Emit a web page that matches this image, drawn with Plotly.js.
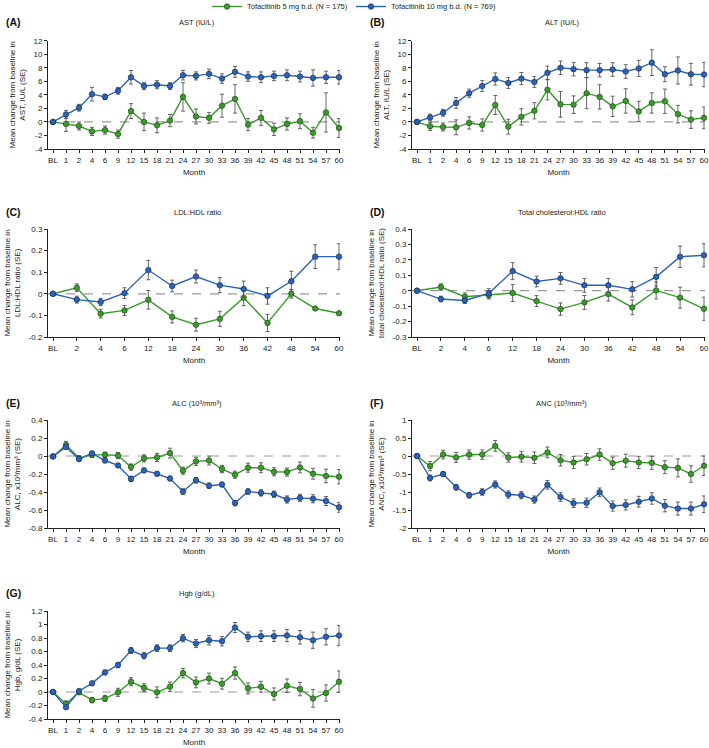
<!DOCTYPE html>
<html><head><meta charset="utf-8">
<script src="https://cdn.plot.ly/plotly-3.0.1.min.js"></script>
<style>html,body{margin:0;padding:0;background:#fff}#chart{width:709px;height:748px}</style>
</head><body><div id="chart"></div>
<script>
// ---------- categories ----------
const monthsLong = ['BL','1','2','4','6','9','12','15','18','21','24','27','30','33','36','39','42','45','48','51','54','57','60'];
const monthsShort = ['BL','2','4','6','12','18','24','30','36','42','48','54','60'];

// ---------- series names ----------
const nameLow = 'Tofacitinib 5 mg b.d. (N = 175)';
const nameHigh = 'Tofacitinib 10 mg b.d. (N = 769)';

// ---------- (A) AST ----------
const astHigh   = [0,1.1,2.1,4.1,3.7,4.6,6.6,5.3,5.5,5.3,6.9,6.8,7.1,6.4,7.4,6.7,6.6,6.8,6.9,6.7,6.5,6.6,6.6];
const astHighSE = [0.3,0.6,0.5,1.0,0.4,0.5,1.0,0.5,0.6,0.5,0.7,0.6,0.7,0.7,0.8,0.7,0.8,0.7,0.8,0.8,1.2,0.9,1.0];
const astLow    = [0,-0.3,-0.6,-1.4,-1.2,-1.8,1.6,0.0,-0.5,0.2,3.7,0.8,0.6,2.4,3.4,-0.4,0.6,-1.1,-0.3,0.1,-1.6,1.4,-0.9];
const astLowSE  = [0.3,1.1,0.6,0.6,0.6,0.6,1.1,1.3,1.1,0.9,2.1,1.1,0.8,1.7,2.1,0.9,1.1,0.9,0.9,1.1,0.8,2.9,1.4];

// ---------- (B) ALT ----------
const altHigh   = [0,0.65,1.35,2.8,4.25,5.3,6.35,5.75,6.4,5.9,7.25,8.0,7.8,7.65,7.65,7.75,7.45,7.9,8.75,7.05,7.6,7.05,7.0];
const altHighSE = [0.3,0.5,0.5,0.8,0.6,0.8,0.9,0.8,0.9,0.8,1.0,1.0,1.0,1.1,1.0,1.0,1.0,1.2,1.9,1.1,2.0,1.6,1.8];
const altLow    = [0,-0.65,-0.75,-0.8,-0.15,-0.45,2.5,-0.7,0.75,1.65,4.75,2.6,2.55,4.25,3.7,2.3,3.1,1.55,2.8,3.05,1.15,0.35,0.6];
const altLowSE  = [0.3,0.6,0.6,1.1,0.9,0.9,1.4,1.1,1.2,1.2,1.5,1.9,1.3,2.3,1.8,1.5,1.8,1.5,1.5,1.8,1.3,1.3,1.6];

// ---------- (C) LDL:HDL ----------
const ldlHigh   = [0,-0.027,-0.038,0.003,0.11,0.036,0.08,0.04,0.022,-0.01,0.058,0.172,0.172];
const ldlHighSE = [0.005,0.016,0.017,0.025,0.045,0.027,0.03,0.035,0.037,0.038,0.046,0.055,0.06];
const ldlLow    = [0,0.028,-0.092,-0.077,-0.028,-0.107,-0.143,-0.116,-0.018,-0.135,0.0,-0.068,-0.09];
const ldlLowSE  = [0.005,0.018,0.02,0.023,0.043,0.028,0.03,0.035,0.037,0.04,0.02,0.006,0.006];

// ---------- (D) Total cholesterol:HDL ----------
const tcHigh   = [0,-0.054,-0.063,-0.017,0.127,0.06,0.08,0.035,0.035,0.009,0.09,0.22,0.23];
const tcHighSE = [0.005,0.018,0.02,0.03,0.055,0.035,0.038,0.045,0.045,0.05,0.06,0.07,0.075];
const tcLow    = [0,0.024,-0.039,-0.028,-0.015,-0.067,-0.119,-0.076,-0.022,-0.108,0.002,-0.045,-0.117];
const tcLowSE  = [0.005,0.02,0.025,0.025,0.055,0.035,0.04,0.045,0.045,0.048,0.055,0.068,0.075];

// ---------- (E) ALC ----------
const alcHigh   = [-0.005,0.1,-0.035,0.03,-0.05,-0.105,-0.255,-0.16,-0.197,-0.25,-0.395,-0.27,-0.33,-0.317,-0.523,-0.395,-0.41,-0.425,-0.483,-0.465,-0.475,-0.5,-0.57];
const alcHighSE = [0.01,0.02,0.02,0.02,0.025,0.02,0.03,0.025,0.025,0.025,0.03,0.03,0.03,0.025,0.03,0.03,0.035,0.035,0.04,0.04,0.045,0.05,0.055];
const alcLow    = [-0.005,0.123,-0.023,0.013,0.013,0.005,-0.123,-0.027,-0.016,0.032,-0.163,-0.06,-0.05,-0.145,-0.208,-0.13,-0.13,-0.175,-0.178,-0.127,-0.197,-0.222,-0.23];
const alcLowSE  = [0.01,0.04,0.025,0.03,0.03,0.035,0.035,0.04,0.045,0.055,0.04,0.045,0.05,0.04,0.04,0.05,0.055,0.045,0.045,0.06,0.06,0.075,0.08];

// ---------- (F) ANC ----------
const ancHigh   = [0,-0.61,-0.5,-0.87,-1.09,-1.0,-0.79,-1.07,-1.09,-1.21,-0.8,-1.14,-1.31,-1.3,-1.01,-1.39,-1.36,-1.27,-1.18,-1.38,-1.46,-1.46,-1.34];
const ancHighSE = [0.03,0.08,0.07,0.08,0.08,0.09,0.1,0.1,0.1,0.1,0.12,0.12,0.12,0.13,0.12,0.14,0.14,0.15,0.16,0.17,0.18,0.18,0.23];
const ancLow    = [0,-0.28,0.04,-0.04,0.04,0.04,0.28,-0.04,-0.02,-0.05,0.1,-0.12,-0.18,-0.09,0.04,-0.2,-0.13,-0.18,-0.19,-0.31,-0.33,-0.5,-0.27];
const ancLowSE  = [0.03,0.13,0.12,0.14,0.13,0.13,0.15,0.13,0.15,0.16,0.15,0.16,0.17,0.16,0.16,0.17,0.18,0.17,0.18,0.18,0.25,0.23,0.27];

// ---------- (G) Hgb ----------
const hgbHigh   = [0,-0.225,0.015,0.128,0.29,0.4,0.615,0.537,0.65,0.65,0.797,0.718,0.767,0.753,0.955,0.817,0.827,0.827,0.837,0.81,0.767,0.817,0.837];
const hgbHighSE = [0.01,0.02,0.025,0.03,0.035,0.04,0.045,0.045,0.05,0.05,0.055,0.06,0.07,0.07,0.075,0.07,0.08,0.08,0.09,0.1,0.12,0.12,0.15];
const hgbLow    = [0,-0.173,-0.005,-0.12,-0.095,-0.005,0.152,0.063,-0.005,0.078,0.28,0.142,0.2,0.123,0.28,0.054,0.078,-0.03,0.093,0.044,-0.095,-0.015,0.152];
const hgbLowSE  = [0.01,0.04,0.03,0.04,0.045,0.06,0.06,0.06,0.08,0.07,0.07,0.08,0.08,0.08,0.09,0.08,0.08,0.09,0.1,0.1,0.13,0.12,0.16];

// ---------- y tick values / labels ----------
const astTickVals = [-4,-2,0,2,4,6,8,10,12];
const astTickText = ['-4','-2','0','2','4','6','8','10','12'];
const ldlTickVals = [-0.2,-0.1,0,0.1,0.2,0.3];
const ldlTickText = ['-0.2','-0.1','0','0.1','0.2','0.3'];
const tcTickVals  = [-0.3,-0.2,-0.1,0,0.1,0.2,0.3,0.4];
const tcTickText  = ['-0.3','-0.2','-0.1','0','0.1','0.2','0.3','0.4'];
const alcTickVals = [-0.8,-0.6,-0.4,-0.2,0,0.2,0.4];
const alcTickText = ['-0.8','-0.6','-0.4','-0.2','0','0.2','0.4'];
const ancTickVals = [-2,-1.5,-1,-0.5,0,0.5,1];
const ancTickText = ['-2','-1.5','-1','-0.5','0','0.5','1'];
const hgbTickVals = [-0.4,-0.2,0,0.2,0.4,0.6,0.8,1,1.2];
const hgbTickText = ['-0.4','-0.2','0','0.2','0.4','0.6','0.8','1','1.2'];

// ---------- panel text ----------
const panelLabels = ['(A)','(B)','(C)','(D)','(E)','(F)','(G)'];
const panelTitles = ['AST (IU/L)','ALT (IU/L)','LDL:HDL ratio','Total cholesterol:HDL ratio',
  'ALC (10³/mm³)','ANC (10³/mm³)','Hgb (g/dL)'];
const yTitles = ['Mean change from baseline in<br>AST, IU/L (SE)',
  'Mean change from baseline in<br>ALT, IU/L (SE)',
  'Mean change from baseline in<br>LDL:HDL ratio (SE)',
  'Mean change from baseline in<br>total cholesterol:HDL ratio (SE)',
  'Mean change from baseline in<br>ALC, x10³/mm³ (SE)',
  'Mean change from baseline in<br>ANC, x10³/mm³ (SE)',
  'Mean change from baseline in<br>Hgb, g/dL (SE)'];
const xTitle = 'Month';

// ---------- styling / geometry ----------
const W = 709, H = 748;
const FONT = 'Liberation Sans, Arial, Helvetica, sans-serif';
const GREEN = '#3a9a2c', BLUE = '#2d63b6';
const panels = [
  {cats: monthsLong,  low: astLow, lowSE: astLowSE, high: astHigh, highSE: astHighSE, yr: [-4,12],   tv: astTickVals, tt: astTickText, x0: 48,  x1: 340, top: 40.7, bot: 149},
  {cats: monthsLong,  low: altLow, lowSE: altLowSE, high: altHigh, highSE: altHighSE, yr: [-4,12],   tv: astTickVals, tt: astTickText, x0: 412, x1: 705, top: 40.7, bot: 149},
  {cats: monthsShort, low: ldlLow, lowSE: ldlLowSE, high: ldlHigh, highSE: ldlHighSE, yr: [-0.2,0.3], tv: ldlTickVals, tt: ldlTickText, x0: 48,  x1: 340, top: 229, bot: 337},
  {cats: monthsShort, low: tcLow,  lowSE: tcLowSE,  high: tcHigh,  highSE: tcHighSE,  yr: [-0.3,0.4], tv: tcTickVals,  tt: tcTickText,  x0: 412, x1: 705, top: 229, bot: 337},
  {cats: monthsLong,  low: alcLow, lowSE: alcLowSE, high: alcHigh, highSE: alcHighSE, yr: [-0.8,0.4], tv: alcTickVals, tt: alcTickText, x0: 48,  x1: 340, top: 420, bot: 528},
  {cats: monthsLong,  low: ancLow, lowSE: ancLowSE, high: ancHigh, highSE: ancHighSE, yr: [-2,1],     tv: ancTickVals, tt: ancTickText, x0: 412, x1: 705, top: 420, bot: 528},
  {cats: monthsLong,  low: hgbLow, lowSE: hgbLowSE, high: hgbHigh, highSE: hgbHighSE, yr: [-0.4,1.2], tv: hgbTickVals, tt: hgbTickText, x0: 48,  x1: 340, top: 611, bot: 719}
];
const titleY = [22.5, 22.5, 212, 212, 403, 403, 593];

const data = [];
const legendStyle = (xpx) => ({orientation: 'h', x: xpx / W, xanchor: 'left', y: 1 - 6.5 / H, yanchor: 'middle',
  font: {family: FONT, size: 7.5, color: '#222'}, itemwidth: 30, tracegroupgap: 0,
  bgcolor: 'rgba(0,0,0,0)'});
const layout = {
  width: W, height: H, margin: {l:0, r:0, t:0, b:0, autoexpand: false},
  paper_bgcolor: '#fff', plot_bgcolor: '#fff',
  font: {family: FONT, size: 7.5, color: '#222'},
  showlegend: true,
  legend: legendStyle(207),
  legend2: legendStyle(351),
  annotations: [], shapes: []
};

panels.forEach((p, i) => {
  const k = i + 1;
  const xa = 'x' + (k === 1 ? '' : k), ya = 'y' + (k === 1 ? '' : k);
  const n = p.cats.length;
  const pxw = p.x1 - p.x0;
  const step = (pxw - 6) / (n - 1);
  const series = [
    {y: p.low, se: p.lowSE, color: GREEN, edge: '#1f4d17', name: nameLow, lg: 'legend'},
    {y: p.high, se: p.highSE, color: BLUE, edge: '#162f5c', name: nameHigh, lg: 'legend2'}
  ];
  series.forEach(s => {
    data.push({
      type: 'scatter', mode: 'lines+markers', x: p.cats, y: s.y,
      xaxis: xa, yaxis: ya, name: s.name, legendgroup: s.name, showlegend: i === 0, legend: s.lg,
      line: {color: s.color, width: 1.4},
      marker: {color: s.color, size: 5.5, line: {color: s.edge, width: 0.7}},
      error_y: {type: 'data', array: s.se, visible: true, color: '#555', thickness: 0.9, width: 2},
      cliponaxis: false, hoverinfo: 'skip'
    });
  });
  const xkey = 'xaxis' + (k === 1 ? '' : k), ykey = 'yaxis' + (k === 1 ? '' : k);
  layout[xkey] = {
    type: 'category', anchor: ya, domain: [p.x0 / W, p.x1 / W],
    range: [-5 / step, (n - 1) + 1 / step],
    showline: true, linecolor: '#222', linewidth: 1, showgrid: false, zeroline: false,
    ticks: 'outside', ticklen: 3, tickwidth: 1, tickcolor: '#222',
    tickfont: {family: FONT, size: 8, color: '#222'},
    title: {text: xTitle, font: {family: FONT, size: 8, color: '#222'}, standoff: 5},
    fixedrange: true
  };
  layout[ykey] = {
    anchor: xa, domain: [1 - p.bot / H, 1 - p.top / H], range: p.yr,
    showline: true, linecolor: '#222', linewidth: 1, showgrid: false, zeroline: false,
    ticks: 'outside', ticklen: 3, tickwidth: 1, tickcolor: '#222',
    tickmode: 'array', tickvals: p.tv, ticktext: p.tt,
    tickfont: {family: FONT, size: 8, color: '#222'},
    title: {text: yTitles[i], font: {family: FONT, size: 8, color: '#222'}, standoff: 6},
    fixedrange: true
  };
  layout.shapes.push({type: 'line', xref: xa + ' domain', yref: ya, x0: 0, x1: 1, y0: 0, y1: 0,
    line: {color: '#999', width: 1.2, dash: 'dash'}, layer: 'below'});
  const leftEdge = (i % 2 === 0) ? 4 : 368;
  layout.annotations.push({xref: 'paper', yref: 'paper', x: leftEdge / W, y: 1 - titleY[i] / H,
    xanchor: 'left', yanchor: 'middle', showarrow: false, text: '<b>' + panelLabels[i] + '</b>',
    font: {family: FONT, size: 10.5, color: '#111'}});
  layout.annotations.push({xref: 'paper', yref: 'paper', x: ((p.x0 + p.x1) / 2 + 3) / W, y: 1 - titleY[i] / H,
    xanchor: 'center', yanchor: 'middle', showarrow: false, text: panelTitles[i],
    font: {family: FONT, size: 7.5, color: '#222'}});
});

Plotly.newPlot('chart', data, layout, {staticPlot: true, displayModeBar: false});
</script></body></html>
